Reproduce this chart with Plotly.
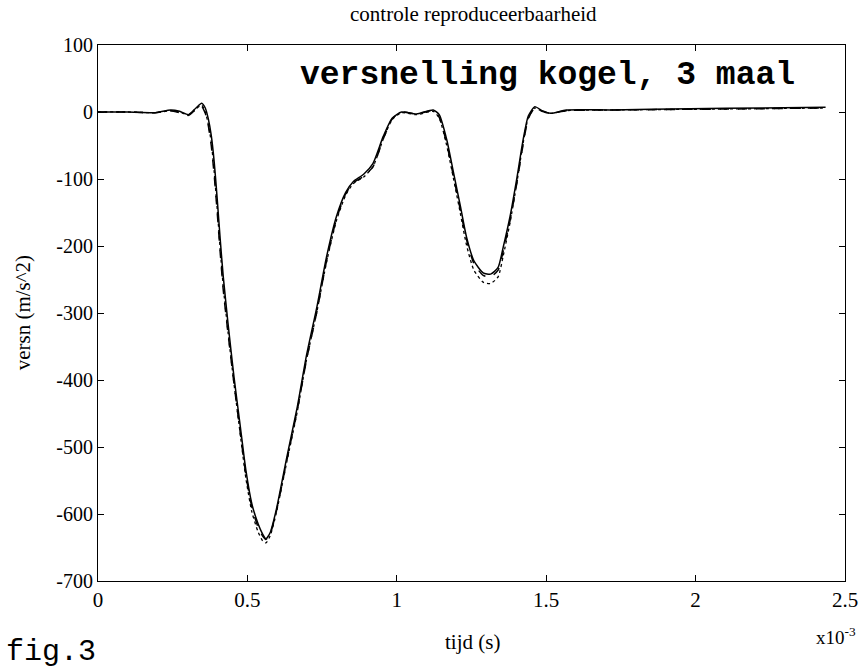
import plotly.graph_objects as go

# time in units of 1e-3 s
t = [0.000, 0.101, 0.192, 0.243, 0.273, 0.303, 0.328, 0.347, 0.359, 0.369, 0.379, 0.389,
     0.399, 0.409, 0.419, 0.435, 0.455, 0.475, 0.495, 0.515, 0.536, 0.551, 0.562, 0.576,
     0.596, 0.632, 0.667, 0.697, 0.733, 0.765, 0.798, 0.829, 0.854, 0.889, 0.920, 0.955,
     0.985, 1.016, 1.066, 1.122, 1.142, 1.167, 1.190, 1.213, 1.233, 1.258, 1.289, 1.314,
     1.339, 1.356, 1.379, 1.401, 1.423, 1.440, 1.462, 1.486, 1.516, 1.567, 1.718, 1.981,
     2.224, 2.435]

run1 = [0, 0, -1, 3, 1, -4, 6, 13, 6, -10, -35, -75,
        -130, -190, -245, -315, -395, -465, -535, -585, -615, -630, -637, -628,
        -595, -515, -440, -365, -290, -216, -156, -120, -104, -93, -77, -36,
        -9, 0, -3, 3, -4, -41, -91, -141, -186, -222, -240, -242,
        -232, -202, -156, -101, -41, -6, 8, 2, -2, 3, 3, 5,
        6, 7]

run2 = [0, 0, -1, 2, -1, -5, 4, 8, -2, -20, -50, -95,
        -150, -210, -265, -330, -405, -475, -542, -590, -620, -633, -638, -630,
        -598, -520, -445, -372, -297, -222, -160, -122, -106, -96, -82, -40,
        -10, 0, -3, 2, -8, -47, -97, -147, -190, -226, -244, -246,
        -236, -208, -162, -108, -48, -10, 6, 1, -2, 2, 3, 4,
        5, 6]

run3 = [0, 0, -1, 2, 0, -4, 5, 10, 0, -18, -45, -90,
        -145, -205, -260, -328, -405, -477, -547, -597, -627, -640, -643, -633,
        -600, -522, -447, -372, -297, -224, -162, -124, -107, -97, -82, -40,
        -11, -1, -4, 1, -9, -50, -100, -152, -198, -236, -254, -256,
        -246, -215, -165, -108, -46, -9, 6, 1, -2, 2, 3, 4,
        5, 6]

xticks = [0, 0.5, 1, 1.5, 2, 2.5]
xticklabels = ["0", "0.5", "1", "1.5", "2", "2.5"]
yticks = [100, 0, -100, -200, -300, -400, -500, -600, -700]
yticklabels = ["100", "0", "-100", "-200", "-300", "-400", "-500", "-600", "-700"]

fig = go.Figure()
fig.add_trace(go.Scatter(x=t, y=run3, mode="lines",
                         line=dict(color="black", width=1.3, dash="dot", shape="spline", smoothing=0.6)))
fig.add_trace(go.Scatter(x=t, y=run2, mode="lines",
                         line=dict(color="black", width=1.5, dash="dash", shape="spline", smoothing=0.6)))
fig.add_trace(go.Scatter(x=t, y=run1, mode="lines",
                         line=dict(color="black", width=1.5, shape="spline", smoothing=0.6)))

serif = "Liberation Serif"
fig.update_layout(
    width=862, height=670,
    margin=dict(l=98, r=17, t=45, b=89, autoexpand=False),
    paper_bgcolor="white", plot_bgcolor="white",
    showlegend=False,
    font=dict(family=serif, color="black", size=18),
)
fig.update_xaxes(range=[0, 2.5], tickvals=xticks, ticktext=xticklabels,
                 ticks="inside", ticklen=6, tickcolor="black",
                 showline=True, linecolor="black", linewidth=1, mirror="ticks",
                 ticklabeloverflow="allow", automargin=False,
                 showgrid=False, zeroline=False, tickfont=dict(family=serif, size=21))
fig.update_yaxes(range=[-700, 100], tickvals=yticks, ticktext=yticklabels,
                 ticks="inside", ticklen=6, tickcolor="black",
                 showline=True, linecolor="black", linewidth=1, mirror="ticks",
                 automargin=False,
                 showgrid=False, zeroline=False, tickfont=dict(family=serif, size=20))

fig.add_annotation(text="controle reproduceerbaarheid", xref="paper", yref="paper",
                   x=0.503, y=1.0, yshift=31, showarrow=False, yanchor="middle",
                   font=dict(family=serif, size=21))
fig.add_annotation(text="<b>versnelling kogel, 3 maal</b>", xref="paper", yref="paper",
                   x=0.936, y=0.944, xanchor="right", yanchor="middle", showarrow=False,
                   font=dict(family="Liberation Mono", size=33))
fig.add_annotation(text="versn (m/s^2)", xref="paper", yref="paper",
                   x=-0.1, y=0.5, xanchor="center", yanchor="middle", textangle=-90,
                   showarrow=False, font=dict(family=serif, size=21))
fig.add_annotation(text="tijd (s)", xref="paper", yref="paper",
                   x=0.502, y=0, yshift=-61, showarrow=False, yanchor="middle",
                   font=dict(family=serif, size=21))
fig.add_annotation(text="x10<sup>-3</sup>", xref="paper", yref="paper",
                   x=1.018, y=0, yshift=-55, showarrow=False, xanchor="right", yanchor="middle",
                   font=dict(family=serif, size=19))
fig.add_annotation(text="fig.3", xref="paper", yref="paper",
                   x=-0.126, y=0, yshift=-71, showarrow=False, xanchor="left", yanchor="middle",
                   font=dict(family="Liberation Mono", size=30))

fig.write_html("out.html")
